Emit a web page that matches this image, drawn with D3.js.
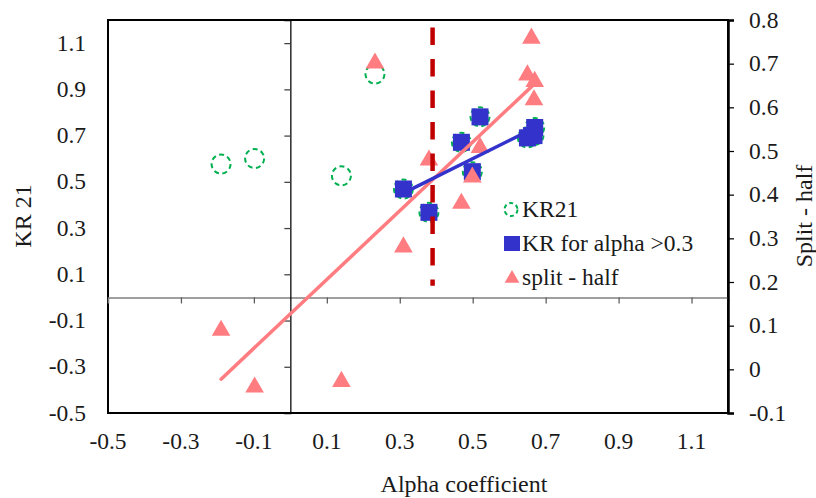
<!DOCTYPE html>
<html>
<head>
<meta charset="utf-8">
<script src="https://cdn.jsdelivr.net/npm/d3@7"></script>
<style>
  html, body { margin: 0; padding: 0; background: #fff; }
  svg text { font-family: "Liberation Serif", "DejaVu Serif", serif; }
</style>
</head>
<body>
<svg id="chart" width="816" height="498"></svg>
<script>
// Reliability coefficients per item set
const alpha = [-0.19, -0.098, 0.14, 0.232, 0.31, 0.38, 0.469, 0.499, 0.52, 0.65, 0.661, 0.668, 0.67];
const kr21 = [0.577, 0.601, 0.526, 0.966, 0.469, 0.368, 0.671, 0.544, 0.781, 0.69, 0.70, 0.70, 0.735];
const splitHalf = [0.089, -0.041, -0.028, 0.701, 0.28, 0.479, 0.38, 0.44, 0.508, 0.674, 0.758, 0.617, 0.659];

const ALPHA_CUT = 0.3;
const cutLineX = [0.39, 0.39];
const cutLineY = [1.168, 0.05];

const xTicks = [-0.5, -0.3, -0.1, 0.1, 0.3, 0.5, 0.7, 0.9, 1.1];
const yLeftTicks = [-0.5, -0.3, -0.1, 0.1, 0.3, 0.5, 0.7, 0.9, 1.1];
const yRightTicks = [-0.1, 0, 0.1, 0.2, 0.3, 0.4, 0.5, 0.6, 0.7, 0.8];

const legendLabels = ["KR21", "KR for alpha >0.3", "split - half"];

const C_GREEN = "#00B050";
const C_BLUE = "#3333CC";
const C_PINK = "#FF7C80";
const C_DRED = "#C00000";
const SERIF = "Liberation Serif";

const svg = d3.select("#chart");
const L = 108, R = 728, T = 20, B = 413;

const x = d3.scaleLinear([-0.5, 1.2], [L, R]);
const yL = d3.scaleLinear([-0.5, 1.2], [B, T]);
const yR = d3.scaleLinear([-0.1, 0.8], [B, T]);

const all = alpha.map((a, i) => ({ a, k: kr21[i], s: splitHalf[i] }));
const high = all.filter((d) => d.a > ALPHA_CUT);

// least squares trendline over the x range of the points
function trend(pts, key) {
  const mx = d3.mean(pts, (d) => d.a);
  const my = d3.mean(pts, (d) => d[key]);
  const sxy = d3.sum(pts, (d) => (d.a - mx) * (d[key] - my));
  const sxx = d3.sum(pts, (d) => (d.a - mx) ** 2);
  const m = sxy / sxx;
  const b = my - m * mx;
  const [x0, x1] = d3.extent(pts, (d) => d.a);
  return [[x0, b + m * x0], [x1, b + m * x1]];
}

function label(sel, size = 23.5) {
  return sel.attr("font-family", SERIF).attr("font-size", size).attr("fill", "#1a1a1a");
}

// plot frame
svg.append("rect")
  .attr("x", L).attr("y", T).attr("width", R - L).attr("height", B - T)
  .attr("fill", "none").attr("stroke", "#000").attr("stroke-width", 2);

// horizontal axis at y = 0, ticks hang downward
const xAxis = svg.append("g").attr("transform", `translate(0,${yL(0)})`)
  .call(d3.axisBottom(x).tickValues(xTicks.filter((t) => t > -0.5)).tickSize(6).tickFormat(""));
xAxis.select(".domain").attr("stroke", "#808080").attr("stroke-width", 1.5);
xAxis.selectAll(".tick line").attr("stroke", "#595959").attr("stroke-width", 1.25);

// vertical axis at x = 0, ticks to the left
const yAxis = svg.append("g").attr("transform", `translate(${x(0)},0)`)
  .call(d3.axisLeft(yL).tickValues(yLeftTicks.filter((t) => t > -0.5)).tickSize(6).tickFormat(""));
yAxis.select(".domain").attr("stroke", "#000").attr("stroke-width", 1.25);
yAxis.selectAll(".tick line").attr("stroke", "#404040").attr("stroke-width", 1.25);

// right axis
const rAxis = svg.append("g").attr("transform", `translate(${R},0)`)
  .call(d3.axisRight(yR).tickValues(yRightTicks).tickSize(6).tickFormat(""));
rAxis.select(".domain").attr("stroke", "#000").attr("stroke-width", 2.5);
rAxis.selectAll(".tick line").attr("stroke", "#000").attr("stroke-width", 1.25);

// tick labels (low position)
const fmt = (v) => (Math.abs(v) < 1e-9 ? "0" : d3.format(".1f")(v).replace("−", "-"));
svg.append("g").selectAll("text").data(xTicks).join("text")
  .attr("x", (d) => x(d)).attr("y", 449).attr("text-anchor", "middle")
  .call(label).text(fmt);
svg.append("g").selectAll("text").data(yLeftTicks).join("text")
  .attr("x", 86).attr("y", (d) => yL(d) + 7.5).attr("text-anchor", "end")
  .call(label).text(fmt);
svg.append("g").selectAll("text").data(yRightTicks).join("text")
  .attr("x", 749).attr("y", (d) => yR(d) + 7.5).attr("text-anchor", "start")
  .call(label).text(fmt);

// axis titles
svg.append("text").attr("x", 464).attr("y", 492).attr("text-anchor", "middle")
  .call(label, 24).text("Alpha coefficient");
svg.append("text").attr("transform", "translate(31,216) rotate(-90)").attr("text-anchor", "middle")
  .call(label, 24).text("KR 21");
svg.append("text").attr("transform", "translate(812,216) rotate(-90)").attr("text-anchor", "middle")
  .call(label, 24).text("Split - half");

const tri = d3.symbol(d3.symbolTriangle, 150);

// KR21 dashed circles
svg.append("g").selectAll("circle").data(all).join("circle")
  .attr("cx", (d) => x(d.a)).attr("cy", (d) => yL(d.k)).attr("r", 9.5)
  .attr("fill", "none").attr("stroke", C_GREEN).attr("stroke-width", 2)
  .attr("stroke-dasharray", "5,3.5");

// KR for alpha > 0.3 squares
svg.append("g").selectAll("rect").data(high).join("rect")
  .attr("x", (d) => x(d.a) - 8.5).attr("y", (d) => yL(d.k) - 8.5)
  .attr("width", 17).attr("height", 17).attr("fill", C_BLUE);

// split-half triangles (right axis)
svg.append("g").selectAll("path").data(all).join("path")
  .attr("d", tri).attr("transform", (d) => `translate(${x(d.a)},${yR(d.s)})`)
  .attr("fill", C_PINK);

// trendlines
const line = d3.line();
const tS = trend(all, "s");
svg.append("path").attr("d", line(tS.map(([a, v]) => [x(a), yR(v)])))
  .attr("stroke", C_PINK).attr("stroke-width", 3.5).attr("fill", "none").attr("stroke-linecap", "round");
const tK = trend(high, "k");
svg.append("path").attr("d", line(tK.map(([a, v]) => [x(a), yL(v)])))
  .attr("stroke", C_BLUE).attr("stroke-width", 3.5).attr("fill", "none").attr("stroke-linecap", "round");

// alpha cut-off dashed line
svg.append("path").attr("d", line(cutLineX.map((a, i) => [x(a), yL(cutLineY[i])])))
  .attr("stroke", C_DRED).attr("stroke-width", 4.5).attr("fill", "none")
  .attr("stroke-dasharray", "17.5,14");

// legend
const lg = svg.append("g");
const rowY = [209.5, 243.5, 277.5];
lg.append("circle").attr("cx", 511).attr("cy", rowY[0]).attr("r", 6.5)
  .attr("fill", "none").attr("stroke", C_GREEN).attr("stroke-width", 2).attr("stroke-dasharray", "4,3");
lg.append("rect").attr("x", 504).attr("y", rowY[1] - 7.5).attr("width", 16).attr("height", 15).attr("fill", C_BLUE);
lg.append("path").attr("d", d3.symbol(d3.symbolTriangle, 95)).attr("transform", `translate(512,${rowY[2] + 1})`).attr("fill", C_PINK);
lg.selectAll("text").data(legendLabels).join("text")
  .attr("x", 522).attr("y", (d, i) => rowY[i] + 7.5)
  .call(label).text((d) => d);
</script>
</body>
</html>
